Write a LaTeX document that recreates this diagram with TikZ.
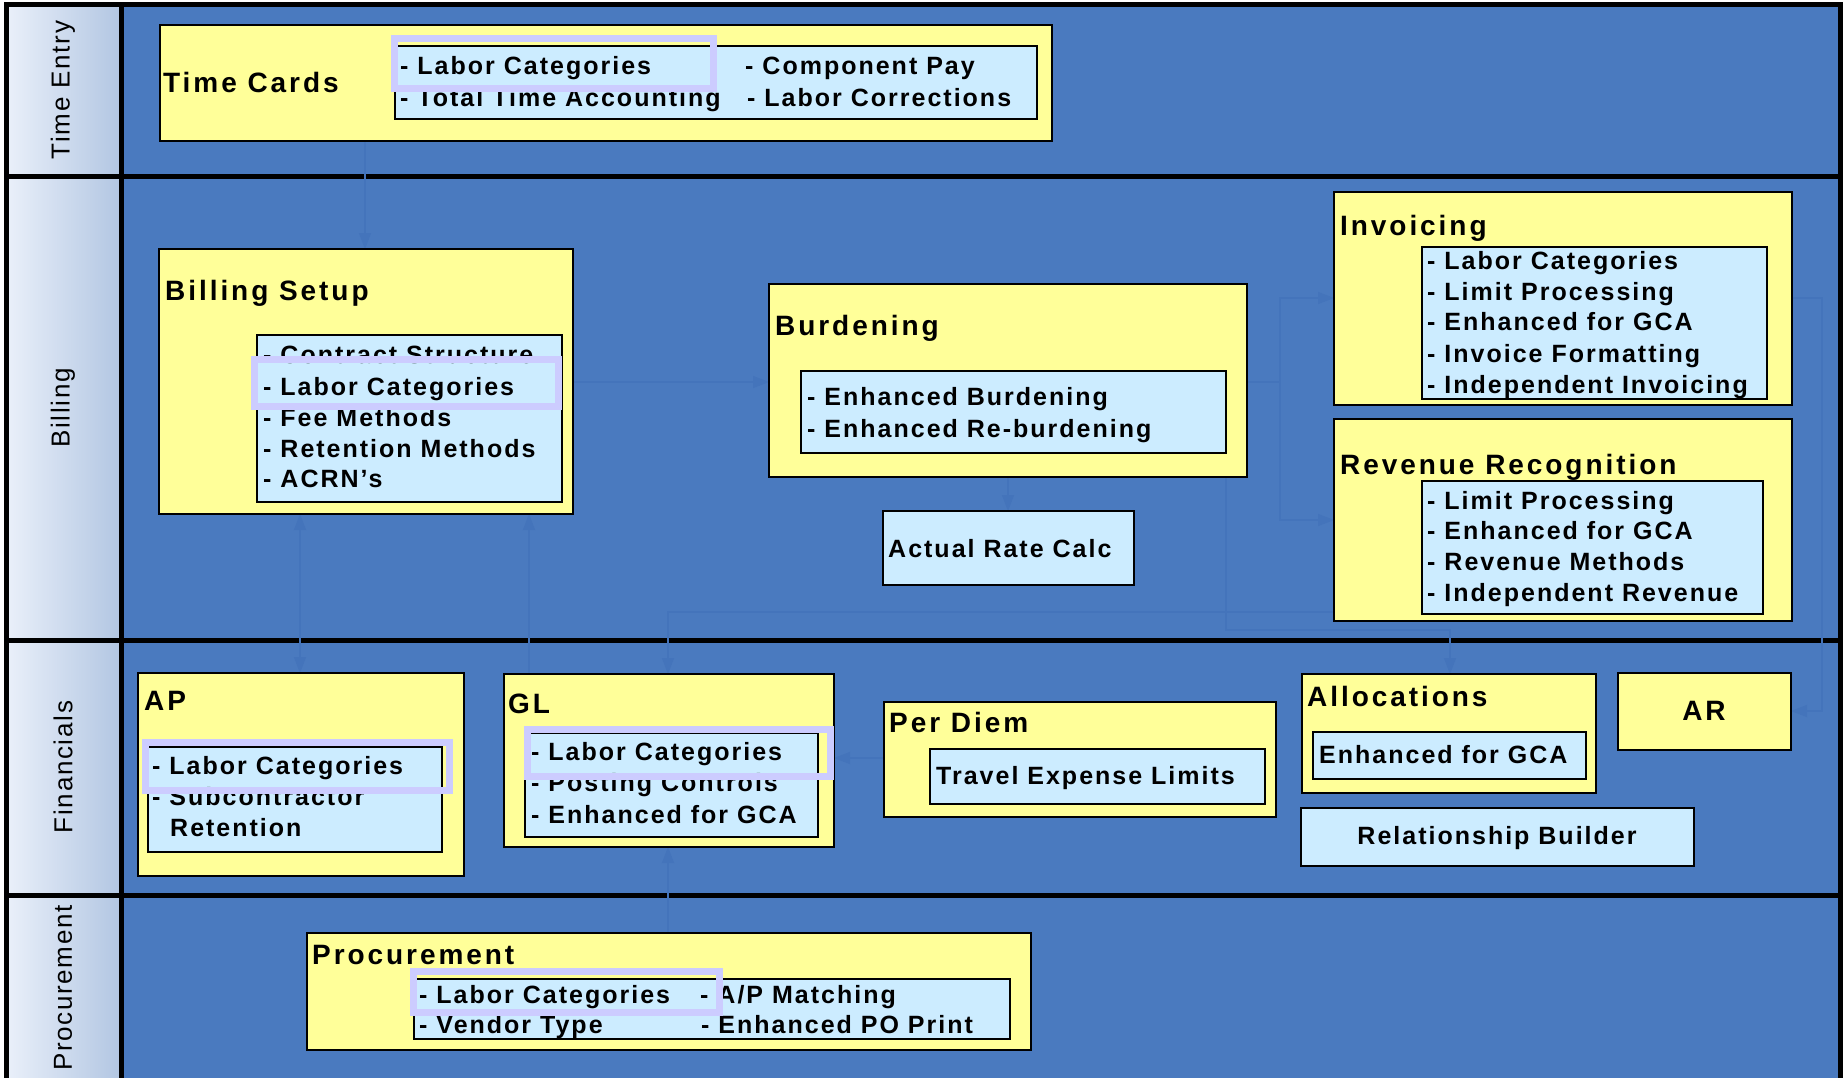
\documentclass[tikz,border=0pt]{standalone}
\usepackage{fontspec}
\setmainfont{Liberation Sans}
\newfontfamily\hfont[LetterSpace=10.5]{Liberation Sans}
\newfontfamily\ifont[LetterSpace=8]{Liberation Sans}
\newfontfamily\lfont[LetterSpace=6.5]{Liberation Sans}
\usetikzlibrary{arrows.meta}
\definecolor{lanebg}{RGB}{74,122,191}
\definecolor{ylw}{RGB}{255,255,153}
\definecolor{lblue}{RGB}{204,236,255}
\definecolor{hlc}{RGB}{204,204,255}
\definecolor{labL}{RGB}{234,240,250}
\definecolor{labR}{RGB}{178,198,226}
\definecolor{connc}{RGB}{68,116,187}
\pgfdeclarelayer{lanes}
\pgfdeclarelayer{conns}
\pgfsetlayers{lanes,conns,main}
\newcommand\mybox[6]{\node[#2, minimum width={(#5)-(#3)}, minimum height={(#6)-(#4)}] (#1) at ({((#3)+(#5))/2},{((#4)+(#6))/2}) {};}
\newcommand\myhl[5]{\node[hlbox, minimum width={(#4)-(#2)-7}, minimum height={(#5)-(#3)-7}] (#1) at ({((#2)+(#4))/2},{((#3)+(#5))/2}) {};}
\tikzset{
  ybox/.style={draw=black, line width=1.8pt, fill=ylw, inner sep=0pt, outer sep=0pt},
  bbox/.style={draw=black, line width=1.8pt, fill=lblue, inner sep=0pt, outer sep=0pt},
  hlbox/.style={draw=hlc, line width=7pt, inner sep=0pt, outer sep=0pt},
  lanelab/.style={draw=black, line width=5pt, left color=labL, right color=labR, inner sep=0pt, outer sep=0pt},
  lanemain/.style={draw=black, line width=5pt, fill=lanebg, inner sep=0pt, outer sep=0pt},
  head/.style={font=\hfont\bfseries\fontsize{28}{32}\selectfont, anchor=base west, inner sep=0pt},
  item/.style={font=\ifont\bfseries\fontsize{25}{30}\selectfont, anchor=base west, inner sep=0pt},
  lanetxt/.style={font=\lfont\fontsize{26}{30}\selectfont, rotate=90, inner sep=0pt},
  conn/.style={draw=connc, line width=1.2pt},
  tip/.style={-{Triangle[length=16pt,width=12pt]}},
  tips/.style={{Triangle[length=16pt,width=12pt]}-{Triangle[length=16pt,width=12pt]}}
}
\begin{document}
\begin{tikzpicture}[x=1pt,y=-1pt]
\useasboundingbox (0,0) rectangle (1845,1077);
\begin{pgfonlayer}{lanes}
\begin{scope}
\clip (0,0) rectangle (1845,1077);
\fill[white] (0,0) rectangle (1845,1077);
\mybox{l1m}{lanemain}{121}{4}{1840}{176}
\mybox{l2m}{lanemain}{121}{176}{1840}{640}
\mybox{l3m}{lanemain}{121}{640}{1840}{895}
\mybox{l4m}{lanemain}{121}{895}{1840}{1090}
\mybox{l1l}{lanelab}{6}{4}{121}{176}
\mybox{l2l}{lanelab}{6}{176}{121}{640}
\mybox{l3l}{lanelab}{6}{640}{121}{895}
\mybox{l4l}{lanelab}{6}{895}{121}{1090}
\node[lanetxt] (lt1) at (63,90) {Time Entry};
\node[lanetxt] (lt2) at (63,408) {Billing};
\node[lanetxt] (lt3) at (63,767) {Financials};
\node[lanetxt] (lt4) at (63,988) {Procurement};
\end{scope}
\end{pgfonlayer}

% boxes
\mybox{tc}{ybox}{160}{25}{1052}{141}
\mybox{tci}{bbox}{395}{46}{1037}{119}
\mybox{bs}{ybox}{159}{249}{573}{514}
\mybox{bsi}{bbox}{257}{335}{562}{502}
\mybox{bu}{ybox}{769}{284}{1247}{477}
\mybox{bui}{bbox}{801}{371}{1226}{453}
\mybox{arc}{bbox}{883}{511}{1134}{585}
\mybox{inv}{ybox}{1334}{192}{1792}{405}
\mybox{invi}{bbox}{1422}{247}{1767}{399}
\mybox{rr}{ybox}{1334}{419}{1792}{621}
\mybox{rri}{bbox}{1422}{481}{1763}{614}
\mybox{ap}{ybox}{138}{673}{464}{876}
\mybox{api}{bbox}{148}{747}{442}{852}
\mybox{gl}{ybox}{504}{674}{834}{847}
\mybox{gli}{bbox}{525}{733}{818}{837}
\mybox{pd}{ybox}{884}{702}{1276}{817}
\mybox{pdi}{bbox}{930}{749}{1265}{804}
\mybox{al}{ybox}{1302}{674}{1596}{793}
\mybox{ali}{bbox}{1313}{732}{1586}{779}
\mybox{ar}{ybox}{1618}{673}{1791}{750}
\mybox{rb}{bbox}{1301}{808}{1694}{866}
\mybox{pr}{ybox}{307}{933}{1031}{1050}
\mybox{pri}{bbox}{414}{979}{1010}{1039}

% headings
\node[head] (tch) at (163,92) {Time Cards};
\node[head] (bsh) at (165,300) {Billing Setup};
\node[head] (buh) at (775,335) {Burdening};
\node[head] (invh) at (1340,235) {Invoicing};
\node[head] (rrh) at (1340,474) {Revenue Recognition};
\node[head] (aph) at (144,710) {AP};
\node[head] (glh) at (508,713) {GL};
\node[head] (pdh) at (889,732) {Per Diem};
\node[head] (alh) at (1307,706) {Allocations};
\node[head, anchor=base] (arh) at (1704,720) {AR};
\node[head] (prh) at (312,964) {Procurement};

% items
\node[item] (tc1) at (400,74) {- Labor Categories};
\node[item] (tc2) at (400,106) {- Total Time Accounting};
\node[item] (tc3) at (745,74) {- Component Pay};
\node[item] (tc4) at (747,106) {- Labor Corrections};
\node[item] (bs1) at (263,363) {- Contract Structure};
\node[item] (bs2) at (263,395) {- Labor Categories};
\node[item] (bs3) at (263,426) {- Fee Methods};
\node[item] (bs4) at (263,457) {- Retention Methods};
\node[item] (bs5) at (263,487) {- ACRN’s};
\node[item] (bu1) at (807,405) {- Enhanced Burdening};
\node[item] (bu2) at (807,437) {- Enhanced Re-burdening};
\node[item] (arct) at (888,557) {Actual Rate Calc};
\node[item] (iv1) at (1427,269) {- Labor Categories};
\node[item] (iv2) at (1427,300) {- Limit Processing};
\node[item] (iv3) at (1427,330) {- Enhanced for GCA};
\node[item] (iv4) at (1427,362) {- Invoice Formatting};
\node[item] (iv5) at (1427,393) {- Independent Invoicing};
\node[item] (rr1) at (1427,509) {- Limit Processing};
\node[item] (rr2) at (1427,539) {- Enhanced for GCA};
\node[item] (rr3) at (1427,570) {- Revenue Methods};
\node[item] (rr4) at (1427,601) {- Independent Revenue};
\node[item] (ap1) at (152,774) {- Labor Categories};
\node[item] (ap2) at (152,805) {- Subcontractor};
\node[item] (ap3) at (170,836) {Retention};
\node[item] (gl1) at (531,760) {- Labor Categories};
\node[item] (gl2) at (531,791) {- Posting Controls};
\node[item] (gl3) at (531,823) {- Enhanced for GCA};
\node[item] (pd1) at (936,784) {Travel Expense Limits};
\node[item] (al1) at (1319,763) {Enhanced for GCA};
\node[item, anchor=base] (rbt) at (1497,844) {Relationship Builder};
\node[item] (pr1) at (419,1003) {- Labor Categories};
\node[item] (pr2) at (419,1033) {- Vendor Type};
\node[item] (pr3) at (700,1003) {- A/P Matching};
\node[item] (pr4) at (701,1033) {- Enhanced PO Print};

% highlights
\myhl{hl1}{391}{35}{717}{92}
\myhl{hl2}{251}{356}{562}{410}
\myhl{hl3}{142}{739}{453}{794}
\myhl{hl4}{524}{726}{834}{780}
\myhl{hl5}{410}{968}{723}{1016}

% faint connectors
\coordinate (k1) at (365,0);
\coordinate (k2) at (0,382);
\coordinate (k3) at (1008,0);
\coordinate (k4) at (1280,0);
\coordinate (k5) at (0,298);
\coordinate (k6) at (0,520);
\coordinate (k7) at (1822,0);
\coordinate (k8) at (0,711);
\coordinate (k9) at (300,0);
\coordinate (k10) at (529,0);
\coordinate (k11) at (668,0);
\coordinate (k12) at (0,612);
\coordinate (k13) at (1226,0);
\coordinate (k14) at (0,630);
\coordinate (k15) at (1450,0);
\coordinate (k16) at (0,758);
\begin{pgfonlayer}{conns}
\draw[conn,tip] (tc.south -| k1) -- (bs.north -| k1);
\draw[conn,tip] (bs.east |- k2) -- (bu.west |- k2);
\draw[conn,tip] (bu.south -| k3) -- (arc.north -| k3);
\draw[conn,tip] (bu.east |- k2) -- (k4 |- k2) -- (k4 |- k5) -- (inv.west |- k5);
\draw[conn,tip] (k4 |- k2) -- (k4 |- k6) -- (rr.west |- k6);
\draw[conn,tip] (inv.east |- k5) -- (k7 |- k5) -- (k7 |- k8) -- (ar.east |- k8);
\draw[conn,tips] (bs.south -| k9) -- (ap.north -| k9);
\draw[conn,tip] (gl.north -| k10) -- (bs.south -| k10);
\draw[conn,tip] (rr.west |- k12) -- (k11 |- k12) -- (gl.north -| k11);
\draw[conn,tip] (bu.south -| k13) -- (k13 |- k14) -- (k15 |- k14) -- (al.north -| k15);
\draw[conn,tip] (pr.north -| k11) -- (gl.south -| k11);
\draw[conn,tip] (pd.west |- k16) -- (gl.east |- k16);
\end{pgfonlayer}
\end{tikzpicture}
\end{document}
